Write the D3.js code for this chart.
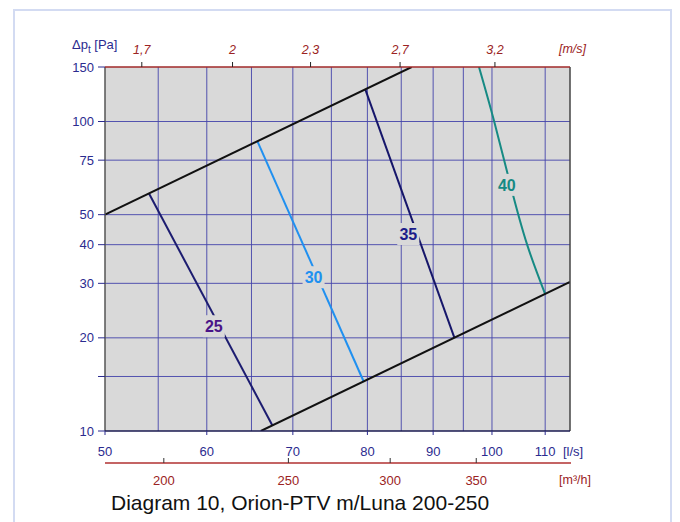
<!DOCTYPE html>
<html>
<head>
<meta charset="utf-8">
<script src="https://cdn.jsdelivr.net/npm/d3@7"></script>
<style>
  html, body { margin: 0; padding: 0; background: #ffffff; }
  svg { display: block; font-family: "Liberation Sans", Arial, sans-serif; }
</style>
</head>
<body>
<svg id="chart" width="680" height="522"></svg>
<script>
// Air flow [l/s] axis (log), pressure drop [Pa] axis (log)
const flowTicks = [50, 60, 70, 80, 90, 100, 110];
const flowGrid = [55, 60, 65, 70, 75, 80, 85, 90, 95, 100, 110];
const pressureTicks = [10, 20, 30, 40, 50, 75, 100, 150];
const pressureGrid = [15, 20, 30, 40, 50, 75, 100];
const velocityTicks = [1.7, 2, 2.3, 2.7, 3.2];          // [m/s]
const m3hTicks = [200, 250, 300, 350];                   // [m³/h]
const ductArea = Math.PI * 0.1 * 0.1;                    // Ø200 duct, m²

// Working range boundaries [flow l/s, Δp Pa]
const upperBound = [[50, 50], [86.6, 150]];
const lowerBound = [[66.1, 10], [115, 30.3]];

// Sound level curves, dB(A)
const curve25 = [[54.1, 58.5], [67.5, 10.4]];
const curve30 = [[65.7, 86.3], [79.5, 14.4]];
const curve35 = [[79.7, 127], [93.5, 20.0]];
const curve40 = [[97.7, 150], [100.4, 100], [103.4, 62], [106.5, 40], [110, 27.7]];

const soundLabels = ["25", "30", "35", "40"];
const labelPoints = [[60.76, 21.8], [72.65, 31.4], [86.08, 43.3], [102.7, 62.4]];
const curveColors = ["#1c1c70", "#2090f0", "#16166a", "#168a84"];
const labelColors = ["#4a1488", "#2090f0", "#1c1c8a", "#168a84"];

const svg = d3.select("#chart");
const L = 105, R = 570, T = 67, B = 431;

const x = d3.scaleLog().domain([50, 115]).range([L, R]);
const y = d3.scaleLog().domain([10, 150]).range([B, T]);

const navy = "#2b2b8f";
const darkRed = "#9b2323";
const gridColor = "#4444aa";
const plotBg = "#d9d9d9";

// outer frame
svg.append("rect")
  .attr("x", 14).attr("y", 10).attr("width", 657).attr("height", 530)
  .attr("fill", "none").attr("stroke", "#d3dbf2").attr("stroke-width", 2);

// plot background
svg.append("rect")
  .attr("x", L).attr("y", T).attr("width", R - L).attr("height", B - T)
  .attr("fill", plotBg);

const clip = svg.append("clipPath").attr("id", "plotclip");
clip.append("rect").attr("x", L).attr("y", T).attr("width", R - L).attr("height", B - T);

// grid
const grid = svg.append("g");
grid.selectAll("line.v").data(flowGrid).join("line")
  .attr("x1", d => x(d)).attr("x2", d => x(d))
  .attr("y1", T).attr("y2", B)
  .attr("stroke", gridColor).attr("stroke-width", 0.9);
grid.selectAll("line.h").data(pressureGrid).join("line")
  .attr("x1", L).attr("x2", R)
  .attr("y1", d => y(d)).attr("y2", d => y(d))
  .attr("stroke", gridColor).attr("stroke-width", 0.9);

// curves
const line = d3.line().x(d => x(d[0])).y(d => y(d[1]));
const smooth = d3.line().x(d => x(d[0])).y(d => y(d[1])).curve(d3.curveNatural);
const plot = svg.append("g").attr("clip-path", "url(#plotclip)");

[curve25, curve30, curve35].forEach((c, i) => {
  plot.append("path").attr("d", line(c)).attr("fill", "none")
    .attr("stroke", curveColors[i]).attr("stroke-width", 2);
});
plot.append("path").attr("d", smooth(curve40)).attr("fill", "none")
  .attr("stroke", curveColors[3]).attr("stroke-width", 2);

[upperBound, lowerBound].forEach(b => {
  plot.append("path").attr("d", line(b)).attr("fill", "none")
    .attr("stroke", "#111111").attr("stroke-width", 2);
});

// curve labels with background patch
const lab = svg.append("g");
soundLabels.forEach((t, i) => {
  const px = x(labelPoints[i][0]), py = y(labelPoints[i][1]);
  lab.append("rect")
    .attr("x", px - 11).attr("y", py - 11).attr("width", 22).attr("height", 22)
    .attr("fill", plotBg);
  lab.append("text")
    .attr("x", px).attr("y", py + 6)
    .attr("text-anchor", "middle")
    .attr("font-size", 16).attr("font-weight", "bold")
    .attr("fill", labelColors[i])
    .text(t);
});

// frame lines of the plot
svg.append("line").attr("x1", L).attr("x2", L).attr("y1", T).attr("y2", B)
  .attr("stroke", "#555555").attr("stroke-width", 1.5);
svg.append("line").attr("x1", R).attr("x2", R).attr("y1", T).attr("y2", B)
  .attr("stroke", "#444444").attr("stroke-width", 1.5);
svg.append("line").attr("x1", L).attr("x2", R).attr("y1", T).attr("y2", T)
  .attr("stroke", "#a02828").attr("stroke-width", 1.5);
svg.append("line").attr("x1", L).attr("x2", R).attr("y1", B).attr("y2", B)
  .attr("stroke", "#1a1a50").attr("stroke-width", 1.5);

// left axis (Δp)
const yAxis = svg.append("g");
yAxis.selectAll("line").data(pressureTicks.concat([15])).join("line")
  .attr("x1", L - 7).attr("x2", L).attr("y1", d => y(d)).attr("y2", d => y(d))
  .attr("stroke", navy).attr("stroke-width", 1);
yAxis.selectAll("text").data(pressureTicks).join("text")
  .attr("x", 94).attr("y", d => y(d) + 4.5)
  .attr("text-anchor", "end").attr("font-size", 13).attr("fill", navy)
  .text(d => d);
const yt = svg.append("text").attr("x", 72).attr("y", 49).attr("font-size", 13).attr("fill", navy);
yt.append("tspan").text("Δp");
yt.append("tspan").attr("font-size", 10).attr("dy", 4).text("t");
yt.append("tspan").attr("dy", -4).text(" [Pa]");

// top axis (velocity)
const vx = v => x(v * ductArea * 1000);
const fmtComma = v => String(v).replace(".", ",");
const topAxis = svg.append("g");
topAxis.selectAll("line").data(velocityTicks).join("line")
  .attr("x1", d => vx(d)).attr("x2", d => vx(d)).attr("y1", T - 5).attr("y2", T)
  .attr("stroke", "#222222").attr("stroke-width", 1);
topAxis.selectAll("text").data(velocityTicks).join("text")
  .attr("x", d => vx(d)).attr("y", 54)
  .attr("text-anchor", "middle").attr("font-size", 12.5).attr("font-style", "italic")
  .attr("fill", darkRed).text(d => fmtComma(d));
svg.append("text").attr("x", 586).attr("y", 53).attr("text-anchor", "end")
  .attr("font-size", 12.5).attr("font-style", "italic").attr("fill", darkRed).text("[m/s]");

// bottom axis (l/s)
const botAxis = svg.append("g");
botAxis.selectAll("line").data(flowTicks).join("line")
  .attr("x1", d => x(d)).attr("x2", d => x(d)).attr("y1", B).attr("y2", B + 4)
  .attr("stroke", navy).attr("stroke-width", 1);
botAxis.selectAll("text").data(flowTicks).join("text")
  .attr("x", d => x(d)).attr("y", 456)
  .attr("text-anchor", "middle").attr("font-size", 13).attr("fill", navy).text(d => d);
svg.append("text").attr("x", 563).attr("y", 456)
  .attr("font-size", 13).attr("fill", navy).text("[l/s]");

// second bottom axis (m³/h)
const my = 463;
const m3Axis = svg.append("g");
m3Axis.append("line").attr("x1", L).attr("x2", 571).attr("y1", my).attr("y2", my)
  .attr("stroke", "#b03030").attr("stroke-width", 1.5);
m3Axis.selectAll("line.t").data(m3hTicks).join("line")
  .attr("x1", d => x(d / 3.6)).attr("x2", d => x(d / 3.6)).attr("y1", my - 5).attr("y2", my)
  .attr("stroke", "#333333").attr("stroke-width", 1);
m3Axis.selectAll("text").data(m3hTicks).join("text")
  .attr("x", d => x(d / 3.6)).attr("y", 485)
  .attr("text-anchor", "middle").attr("font-size", 13).attr("fill", darkRed).text(d => d);
svg.append("text").attr("x", 591).attr("y", 484).attr("text-anchor", "end")
  .attr("font-size", 12.5).attr("fill", darkRed).text("[m³/h]");

// caption
svg.append("text").attr("x", 111).attr("y", 510)
  .attr("font-size", 21).attr("fill", "#111111")
  .text("Diagram 10, Orion-PTV m/Luna 200-250");
</script>
</body>
</html>
